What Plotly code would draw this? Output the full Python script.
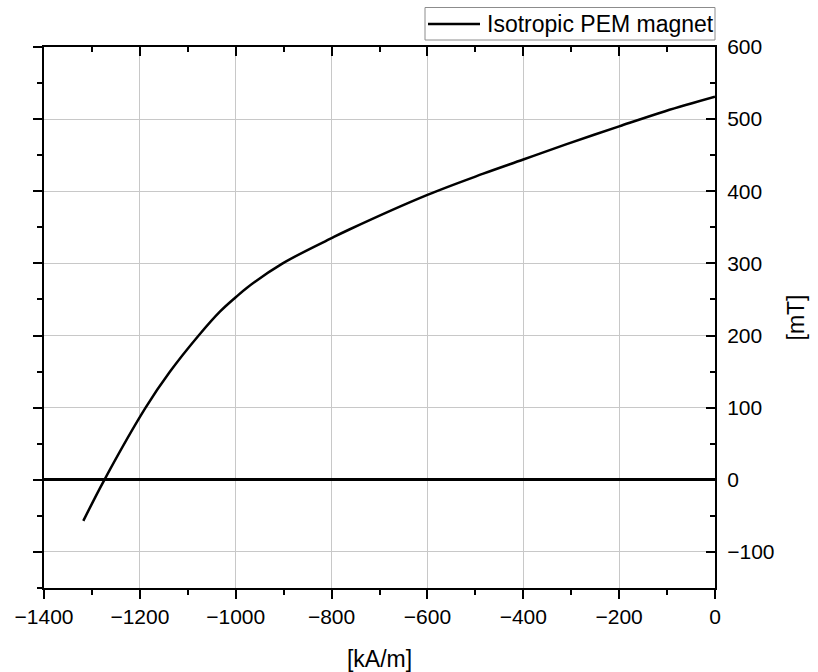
import plotly.graph_objects as go

# Data
h_kam = [-1318, -1274, -1188, -1137, -1076, -1033, -1000, -977, -902,
         -800, -763, -600, -485, -400, -311, -200, -104, 0]
b_mt = [-57, 0, 100, 150, 201, 233, 253, 266, 300,
        335, 347, 395, 424, 444, 465, 490, 511, 531]

series_name = "Isotropic PEM magnet"
x_title = "[kA/m]"
y_title = "[mT]"
x_range = [-1400, 0]
y_range = [-150, 600]

FONT = "Liberation Sans, Arial, sans-serif"
GRID = "#c8c8c8"

W, H = 818, 672
L, R, T, B = 44, 103, 47, 84
PW, PH = W - L - R, H - T - B


def px_x(px):
    return (px - L) / PW


def px_y(py):
    return (H - B - py) / PH


fig = go.Figure()
fig.add_trace(go.Scatter(
    x=h_kam, y=b_mt, mode="lines", name=series_name,
    line=dict(color="black", width=2.5, shape="spline", smoothing=1.0),
    showlegend=False,
))
# invisible helper trace so mirrored axes are drawn
fig.add_trace(go.Scatter(x=[None], y=[None], xaxis="x2", yaxis="y2",
                         showlegend=False, hoverinfo="skip"))

common_x = dict(range=x_range, dtick=200, tick0=0, showline=True,
                linecolor="black", linewidth=2, tickcolor="black",
                tickwidth=2, ticklen=9, zeroline=False, automargin=False)
common_y = dict(range=y_range, dtick=100, tick0=0, showline=True,
                linecolor="black", linewidth=2, tickcolor="black",
                tickwidth=2, ticklen=9, automargin=False)

# legend drawn as box + sample line + text
shapes = [
    dict(type="rect", xref="paper", yref="paper",
         x0=px_x(425), x1=px_x(715), y0=px_y(40), y1=px_y(7.5),
         line=dict(color="#8c8c8c", width=1), fillcolor="white", layer="above"),
    dict(type="line", xref="paper", yref="paper",
         x0=px_x(428), x1=px_x(480), y0=px_y(24), y1=px_y(24),
         line=dict(color="black", width=2.5)),
]
annotations = [
    dict(text=series_name, xref="paper", yref="paper",
         x=px_x(485), y=px_y(24), xanchor="left", yanchor="middle",
         showarrow=False, font=dict(size=23, family=FONT, color="black")),
]

fig.update_layout(
    width=W, height=H,
    margin=dict(l=L, r=R, t=T, b=B, autoexpand=False),
    paper_bgcolor="white", plot_bgcolor="white",
    font=dict(family=FONT, size=22, color="black"),
    xaxis=dict(**common_x, side="bottom", ticks="outside",
               showgrid=True, gridcolor=GRID, gridwidth=1,
               minor=dict(dtick=100, ticks="outside", ticklen=5,
                          tickwidth=2, tickcolor="black", showgrid=False),
               title=dict(text=x_title, font=dict(size=23), standoff=26),
               tickfont=dict(size=21)),
    xaxis2=dict(**common_x, overlaying="x", side="top", anchor="y",
                ticks="inside", showticklabels=False, showgrid=False,
                minor=dict(dtick=100, ticks="inside", ticklen=5,
                           tickwidth=2, tickcolor="black")),
    yaxis=dict(**common_y, side="right", ticks="inside",
               showgrid=True, gridcolor=GRID, gridwidth=1,
               zeroline=True, zerolinecolor="black", zerolinewidth=2.5,
               minor=dict(dtick=50, ticks="inside", ticklen=5,
                          tickwidth=2, tickcolor="black", showgrid=False),
               ticklabelstandoff=6,
               title=dict(text=y_title, font=dict(size=23), standoff=14),
               tickfont=dict(size=21)),
    yaxis2=dict(**common_y, overlaying="y", side="left", anchor="x",
                ticks="outside", showticklabels=False, showgrid=False,
                zeroline=False,
                minor=dict(dtick=50, ticks="outside", ticklen=5,
                           tickwidth=2, tickcolor="black")),
    showlegend=False,
    shapes=shapes,
    annotations=annotations,
)

fig.write_html("out.html",
               config={"displayModeBar": False},
               post_script="document.body.style.margin='0';"
                           "document.body.style.overflow='hidden';")
